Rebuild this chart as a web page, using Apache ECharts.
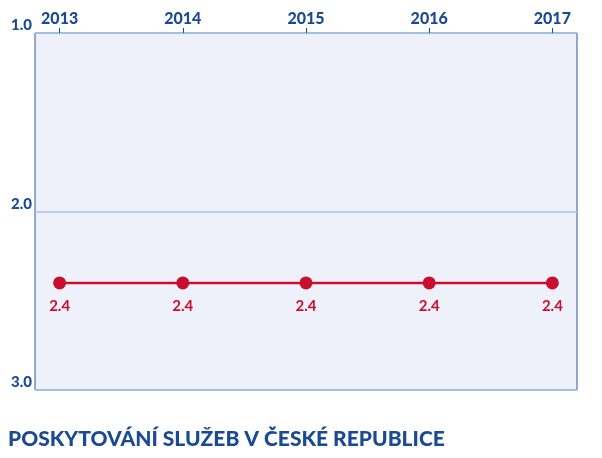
<!DOCTYPE html>
<html><head><meta charset="utf-8">
<script src="https://cdn.jsdelivr.net/npm/echarts@6/dist/echarts.min.js"></script>
<style>body{margin:0}#c{width:602px;height:458px}</style></head>
<body><div id="c"></div>
<script>
const years = [2013, 2014, 2015, 2016, 2017];
const values = [2.4, 2.4, 2.4, 2.4, 2.4];
const yTicks = [1, 2, 3];
const title = 'POSKYTOVÁNÍ SLUŽEB V ČESKÉ REPUBLICE';
const blue = '#1a4a93', red = '#c8102e';
const chart = echarts.init(document.getElementById('c'));
chart.setOption({
  animation: false,
  title: {text: title, left: 3, top: 424, textStyle: {color: blue, fontSize: 21, fontWeight: 900, fontFamily: 'Lato'}},
  grid: {left: 35, right: 25, top: 33, bottom: 68, show: true, backgroundColor: '#eef0fa', borderColor: '#2a5aa0', borderWidth: 1},
  xAxis: {type: 'value', position: 'top', min: 2012.8, max: 2017.2,
    axisLine: {show: false}, splitLine: {show: false},
    axisTick: {show: true, customValues: years, length: 5, inside: false, lineStyle: {color: blue}},
    axisLabel: {customValues: years, color: blue, fontWeight: 900, fontSize: 16, fontFamily: 'Lato', margin: 6, formatter: v => String(v)}},
  yAxis: {type: 'value', inverse: true, min: 1, max: 3, interval: 1,
    axisLine: {show: false}, axisTick: {show: false},
    splitLine: {show: true, lineStyle: {color: '#a9c6ea', width: 1.5}},
    axisLabel: {color: blue, fontWeight: 900, fontSize: 15, fontFamily: 'Lato', margin: 3, verticalAlign: 'bottom',
      formatter: v => yTicks.includes(v) ? v.toFixed(1) : ''}},
  series: [{type: 'line', data: years.map((y, i) => [y, values[i]]),
    symbol: 'circle', symbolSize: 13, lineStyle: {color: red, width: 2.5}, itemStyle: {color: red},
    label: {show: true, position: 'bottom', distance: 9, color: red, fontSize: 15, fontWeight: 'bold', fontFamily: 'Lato', formatter: p => p.value[1].toFixed(1)}}]
});
</script></body></html>
